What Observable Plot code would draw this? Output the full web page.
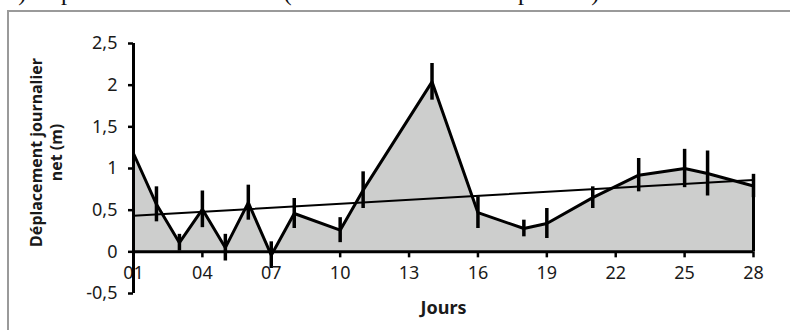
<!DOCTYPE html>
<html>
<head>
<meta charset="utf-8">
<script src="https://cdn.jsdelivr.net/npm/d3@7"></script>
<script src="https://cdn.jsdelivr.net/npm/@observablehq/plot@0.6"></script>
<style>
  html, body { margin: 0; padding: 0; background: #fff; }
  #wrap { position: relative; width: 790px; height: 330px; overflow: hidden; background: #fff; }
  #frame { position: absolute; left: 7px; top: 10px; width: 820px; height: 360px; border: 2px solid #9a9a9a; box-sizing: border-box; }
  #title { position: absolute; left: 6px; top: -21px; line-height: 26px; font-family: "Liberation Serif", serif; font-size: 24.5px; white-space: nowrap; color: #111; }
  #chart { position: absolute; left: 0; top: 0; }
</style>
</head>
<body>
<div id="wrap">
  <div id="title">b) Déplacement des moules (n = 10 individus sur la période)</div>
  <div id="frame"></div>
  <div id="chart"></div>
</div>
<script>
const days   = [1, 2, 3, 4, 5, 6, 7, 8, 10, 11, 14, 16, 18, 19, 21, 23, 25, 26, 28];
const values = [1.18, 0.57, 0.11, 0.51, 0.05, 0.59, -0.04, 0.46, 0.26, 0.74, 2.04, 0.47, 0.28, 0.34, 0.65, 0.92, 1.0, 0.94, 0.79];
const errors = [null, 0.21, 0.10, 0.22, 0.16, 0.21, 0.16, 0.18, 0.15, 0.22, 0.22, 0.19, 0.10, 0.18, 0.13, 0.20, 0.23, 0.27, 0.14];
const xTicks = [1, 4, 7, 10, 13, 16, 19, 22, 25, 28];
const xTickLabels = ["01", "04", "07", "10", "13", "16", "19", "22", "25", "28"];
const yTicks = [-0.5, 0, 0.5, 1, 1.5, 2, 2.5];
const yTickLabels = ["-0,5", "0", "0,5", "1", "1,5", "2", "2,5"];
const xLabel = "Jours";
const yLabel = "Déplacement journalier\nnet (m)";

const data = days.map((d, i) => ({day: d, value: values[i], err: errors[i]}));
const withErr = data.filter(d => d.err != null);
const last = [data[data.length - 1]];
const xTickData = xTicks.map((t, i) => ({t, label: xTickLabels[i]}));

const sans = "'Noto Sans', Roboto, sans-serif";

const chart = Plot.plot({
  width: 790,
  height: 330,
  marginLeft: 133,
  marginRight: 37,
  marginTop: 43,
  marginBottom: 37,
  style: {fontFamily: sans, background: "transparent", color: "#1a1a1a", overflow: "visible"},
  x: {domain: [1, 28], axis: null},
  y: {domain: [-0.5, 2.5], axis: null},
  marks: [
    Plot.areaY(data, {x: "day", y: "value", fill: "#cdcecd"}),
    Plot.ruleX(last, {x: "day", y1: () => 0, y2: "value", stroke: "#000", strokeWidth: 3}),
    Plot.linearRegressionY(data, {x: "day", y: "value", ci: 0, stroke: "#000", strokeWidth: 2}),
    Plot.line(data, {x: "day", y: "value", stroke: "#000", strokeWidth: 3, strokeLinejoin: "miter"}),
    Plot.ruleX(withErr, {x: "day", y1: d => d.value - d.err, y2: d => d.value + d.err, stroke: "#000", strokeWidth: 3.5}),
    Plot.ruleY([0], {stroke: "#000", strokeWidth: 3}),
    Plot.ruleX(xTickData, {x: "t", y1: () => 0, y2: () => 0, insetTop: 6, stroke: "#000", strokeWidth: 2.5}),
    Plot.text(xTickData, {x: "t", y: () => 0, text: "label", dy: 21, fontSize: 18, fill: "#1a1a1a"}),
    Plot.ruleX([1], {stroke: "#000", strokeWidth: 3}),
    Plot.axisY({ticks: yTicks, tickFormat: d => yTickLabels[yTicks.indexOf(d)], tickSize: 5, tickPadding: 11, strokeWidth: 2.5, stroke: "#000", fontSize: 18, label: null}),
    Plot.text([xLabel], {frameAnchor: "bottom", lineAnchor: "middle", textAnchor: "middle", dy: 15, fontSize: 18, fontWeight: "bold", fill: "#1a1a1a"}),
    Plot.text([yLabel], {frameAnchor: "left", textAnchor: "middle", lineAnchor: "middle", rotate: -90, dx: -88, dy: -16, fontSize: 16, fontWeight: "bold", lineHeight: 1.25, fill: "#1a1a1a"})
  ]
});
document.getElementById("chart").appendChild(chart);
</script>
</body>
</html>
